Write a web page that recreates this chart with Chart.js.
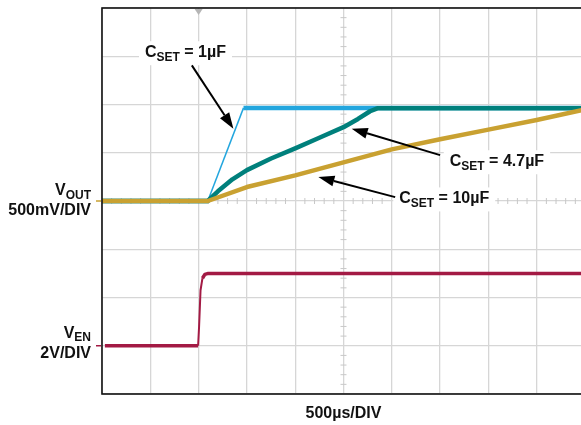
<!DOCTYPE html>
<html>
<head>
<meta charset="utf-8">
<script src="https://cdn.jsdelivr.net/npm/chart.js@4.4.1/dist/chart.umd.min.js"></script>
<style>
  html, body { margin: 0; padding: 0; background: #fff; overflow: hidden; }
  #wrap { width: 586px; height: 425px; }
</style>
</head>
<body>
<div id="wrap"><canvas id="scope" width="586" height="425"></canvas></div>
<script>
// time axis in divisions (500us/DIV), voltage axis in divisions from bottom
const X_DIVS = 10;
const Y_DIVS = 8;

// CSET = 1uF trace
const blueX = [0, 2.19, 2.93, 10];
const blueY = [4.0, 4.0, 5.93, 5.93];

// CSET = 4.7uF trace
const tealX = [0, 2.19, 2.4, 2.7, 3.0, 3.5, 4.0, 4.5, 5.0, 5.3, 5.55, 5.7, 10];
const tealY = [4.0, 4.0, 4.2, 4.45, 4.64, 4.88, 5.09, 5.31, 5.53, 5.7, 5.86, 5.92, 5.92];

// CSET = 10uF trace
const goldX = [0, 2.19, 3, 4, 5, 6, 7, 8, 9, 10];
const goldY = [4.0, 4.0, 4.29, 4.53, 4.8, 5.07, 5.28, 5.48, 5.68, 5.9];

// EN trace
const enX = [0.06, 1.99, 2.01, 2.04, 2.08, 2.13, 2.2, 10];
const enY = [1.0, 1.0, 1.4, 2.15, 2.4, 2.48, 2.5, 2.5];

// callouts: label anchor + arrow tail/tip, all in division units
const callouts = [
  { main: 'C', sub: 'SET', rest: ' = 1µF', lx: 0.89, ly: 6.98, tail: [1.86, 6.81], tip: [2.72, 5.50] },
  { main: 'C', sub: 'SET', rest: ' = 4.7µF', lx: 7.2, ly: 4.72, tail: [7.0, 4.95], tip: [5.17, 5.50] },
  { main: 'C', sub: 'SET', rest: ' = 10µF', lx: 6.155, ly: 3.95, tail: [6.07, 4.08], tip: [4.48, 4.50] }
];

const COLORS = {
  blue: '#23a6de',
  teal: '#00807c',
  gold: '#c9a131',
  red: '#a31a44',
  grid: '#d6d6d6'
};

const FONT = '"Liberation Sans", Arial, sans-serif';
const BIG = 'bold 16px ' + FONT;
const SMALL = 'bold 12px ' + FONT;

function toPoints(xs, ys) {
  return xs.map((x, i) => ({ x: x, y: ys[i] }));
}

// draws "V" + subscript + rest, returns width
function drawSubText(ctx, x, y, main, sub, rest, align) {
  ctx.font = BIG;
  const w1 = ctx.measureText(main).width;
  const w3 = ctx.measureText(rest || '').width;
  ctx.font = SMALL;
  const w2 = ctx.measureText(sub).width;
  const total = w1 + w2 + w3;
  let sx = align === 'right' ? x - total : x;
  ctx.textAlign = 'left';
  ctx.textBaseline = 'alphabetic';
  ctx.fillStyle = '#111';
  ctx.font = BIG;
  ctx.fillText(main, sx, y);
  ctx.font = SMALL;
  ctx.fillText(sub, sx + w1, y + 3.5);
  ctx.font = BIG;
  if (rest) ctx.fillText(rest, sx + w1 + w2, y);
  return total;
}

function drawArrow(ctx, x0, y0, x1, y1) {
  const ang = Math.atan2(y1 - y0, x1 - x0);
  const headLen = 16, headW = 5.5;
  const bx = x1 - headLen * Math.cos(ang);
  const by = y1 - headLen * Math.sin(ang);
  ctx.strokeStyle = '#000';
  ctx.lineWidth = 2;
  ctx.beginPath();
  ctx.moveTo(x0, y0);
  ctx.lineTo(bx, by);
  ctx.stroke();
  ctx.fillStyle = '#000';
  ctx.beginPath();
  ctx.moveTo(x1, y1);
  ctx.lineTo(bx + headW * Math.sin(ang), by - headW * Math.cos(ang));
  ctx.lineTo(bx - headW * Math.sin(ang), by + headW * Math.cos(ang));
  ctx.closePath();
  ctx.fill();
}

const scopeDecor = {
  id: 'scopeDecor',
  beforeDatasetsDraw(chart) {
    const { ctx, scales: { x, y } } = chart;
    ctx.save();
    // minor ticks on the centre cross
    ctx.strokeStyle = '#c8c8c8';
    ctx.lineWidth = 1;
    const cy = y.getPixelForValue(Y_DIVS / 2);
    const cx = x.getPixelForValue(X_DIVS / 2);
    ctx.beginPath();
    for (let i = 1; i < X_DIVS * 5; i++) {
      if (i % 5 === 0) continue;
      const px = x.getPixelForValue(i / 5);
      ctx.moveTo(px, cy - 3);
      ctx.lineTo(px, cy + 3);
    }
    for (let i = 1; i < Y_DIVS * 5; i++) {
      if (i % 5 === 0) continue;
      const py = y.getPixelForValue(i / 5);
      ctx.moveTo(cx - 3, py);
      ctx.lineTo(cx + 3, py);
    }
    ctx.stroke();
    ctx.restore();
  },
  afterDatasetsDraw(chart) {
    const { ctx, chartArea: a, scales: { x, y } } = chart;
    ctx.save();
    // frame
    ctx.strokeStyle = '#111';
    ctx.lineWidth = 1.6;
    ctx.strokeRect(a.left, a.top, a.right - a.left, a.bottom - a.top);

    // trigger marker
    const tx = x.getPixelForValue(2);
    ctx.fillStyle = '#b5b5b5';
    ctx.beginPath();
    ctx.moveTo(tx - 4, a.top + 1);
    ctx.lineTo(tx + 4, a.top + 1);
    ctx.lineTo(tx, a.top + 7);
    ctx.closePath();
    ctx.fill();

    // channel ground markers
    ctx.lineWidth = 1.5;
    ctx.strokeStyle = COLORS.gold;
    ctx.beginPath();
    ctx.moveTo(a.left - 6, y.getPixelForValue(4));
    ctx.lineTo(a.left - 1, y.getPixelForValue(4));
    ctx.stroke();
    ctx.strokeStyle = COLORS.red;
    ctx.beginPath();
    ctx.moveTo(a.left - 6, y.getPixelForValue(1));
    ctx.lineTo(a.left - 1, y.getPixelForValue(1));
    ctx.stroke();

    // callouts
    callouts.forEach(c => {
      const px = x.getPixelForValue(c.lx);
      const py = y.getPixelForValue(c.ly);
      ctx.font = BIG;
      let w = ctx.measureText(c.main + c.rest).width;
      ctx.font = SMALL;
      w += ctx.measureText(c.sub).width;
      ctx.fillStyle = '#fff';
      ctx.fillRect(px - 6, py - 16, w + 12, 24);
    });
    callouts.forEach(c => {
      drawArrow(ctx,
        x.getPixelForValue(c.tail[0]), y.getPixelForValue(c.tail[1]),
        x.getPixelForValue(c.tip[0]), y.getPixelForValue(c.tip[1]));
    });
    callouts.forEach(c => {
      drawSubText(ctx, x.getPixelForValue(c.lx), y.getPixelForValue(c.ly), c.main, c.sub, c.rest, 'left');
    });

    // channel labels on the left
    const lx = a.left - 11;
    drawSubText(ctx, lx, y.getPixelForValue(4) - 6, 'V', 'OUT', '', 'right');
    ctx.font = BIG;
    ctx.textAlign = 'right';
    ctx.fillText('500mV/DIV', lx, y.getPixelForValue(4) + 14);
    drawSubText(ctx, lx, y.getPixelForValue(1) - 8, 'V', 'EN', '', 'right');
    ctx.font = BIG;
    ctx.textAlign = 'right';
    ctx.fillText('2V/DIV', lx, y.getPixelForValue(1) + 12);

    // time base
    ctx.textAlign = 'center';
    ctx.fillText('500µs/DIV', x.getPixelForValue(5), a.bottom + 24);
    ctx.restore();
  }
};

new Chart(document.getElementById('scope').getContext('2d'), {
  type: 'line',
  data: {
    datasets: [
      {
        label: 'CSET = 10µF',
        data: toPoints(goldX, goldY),
        borderColor: COLORS.gold,
        borderWidth: 4.5
      },
      {
        label: 'CSET = 4.7µF',
        data: toPoints(tealX, tealY),
        borderColor: COLORS.teal,
        borderWidth: 4.5
      },
      {
        label: 'CSET = 1µF',
        data: toPoints(blueX, blueY),
        borderColor: COLORS.blue,
        borderWidth: 4.5,
        segment: {
          borderWidth: c => (c.p0DataIndex === 1 ? 1.5 : 4.5)
        }
      },
      {
        label: 'VEN',
        data: toPoints(enX, enY),
        borderColor: COLORS.red,
        borderWidth: 3.5,
        segment: {
          borderWidth: c => (c.p0DataIndex >= 1 && c.p0DataIndex <= 3 ? 2 : 3.5)
        }
      }
    ]
  },
  options: {
    responsive: false,
    animation: false,
    events: [],
    elements: {
      point: { radius: 0 },
      line: { tension: 0, borderCapStyle: 'butt', borderJoinStyle: 'round' }
    },
    layout: { padding: { left: 102, top: 8, right: 1, bottom: 31 } },
    plugins: {
      legend: { display: false },
      tooltip: { enabled: false },
      title: { display: false }
    },
    scales: {
      x: {
        type: 'linear',
        min: 0,
        max: X_DIVS,
        ticks: { display: false, stepSize: 1 },
        grid: { color: COLORS.grid, lineWidth: 1.3, drawTicks: false },
        border: { display: false }
      },
      y: {
        type: 'linear',
        min: 0,
        max: Y_DIVS,
        ticks: { display: false, stepSize: 1 },
        grid: { color: COLORS.grid, lineWidth: 1.3, drawTicks: false },
        border: { display: false }
      }
    }
  },
  plugins: [scopeDecor]
});
</script>
</body>
</html>
